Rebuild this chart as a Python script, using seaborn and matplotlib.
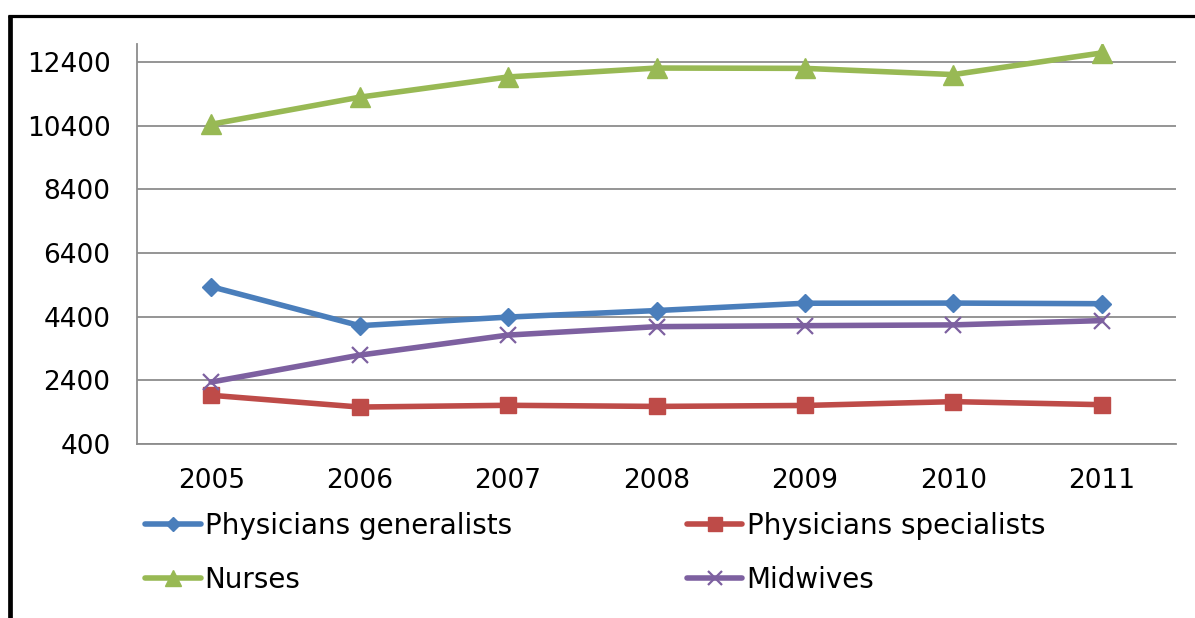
import matplotlib
matplotlib.use("Agg")
import matplotlib.pyplot as plt
from matplotlib.lines import Line2D
import seaborn as sns
import pandas as pd

years = [2005, 2006, 2007, 2008, 2009, 2010, 2011]
generalists = [5340, 4115, 4385, 4590, 4820, 4825, 4805]
specialists = [1930, 1560, 1615, 1580, 1610, 1730, 1635]
nurses = [10440, 11290, 11925, 12205, 12195, 12000, 12680]
midwives = [2345, 3190, 3820, 4085, 4115, 4140, 4275]

series_names = ["Physicians generalists", "Physicians specialists", "Nurses", "Midwives"]
y_ticks = [400, 2400, 4400, 6400, 8400, 10400, 12400]

sns.set_theme(style="white")
plt.rcParams["font.family"] = ["DejaVu Sans"]
plt.rcParams["text.color"] = "black"

styles = {
    "Physicians generalists": dict(color="#4A7EBB", marker="D", markersize=9.5, mew=1),
    "Physicians specialists": dict(color="#BE4B48", marker="s", markersize=12, mew=1),
    "Nurses": dict(color="#98B954", marker="^", markersize=14, mew=1),
    "Midwives": dict(color="#7D60A0", marker="x", markersize=12, mew=1.6),
}

df = pd.DataFrame({
    "year": years * 4,
    "value": generalists + specialists + nurses + midwives,
    "series": sum([[n] * len(years) for n in series_names], []),
})

fig = plt.figure(figsize=(11.95, 6.18), dpi=100)
ax = fig.add_axes([137 / 1195, 1 - 444 / 618, (1176 - 137) / 1195, 400 / 618])

for name in series_names:
    st = styles[name]
    sub = df[df["series"] == name]
    sns.lineplot(data=sub, x="year", y="value", ax=ax, color=st["color"],
                 linewidth=4.0, marker=st["marker"], markersize=st["markersize"],
                 markeredgewidth=st["mew"], markeredgecolor=st["color"],
                 markerfacecolor=st["color"], label=name, legend=False)

ax.set_xlim(2004.5, 2011.5)
ax.set_ylim(400, 12960)
ax.set_yticks(y_ticks)
ax.set_xticks(years)
ax.set_xticklabels([str(y) for y in years])
ax.set_xlabel("")
ax.set_ylabel("")
ax.yaxis.grid(True, color="#8c8c8c", linewidth=1.3)
ax.xaxis.grid(False)
ax.set_axisbelow(True)
for side in ["top", "right"]:
    ax.spines[side].set_visible(False)
for side in ["left", "bottom"]:
    ax.spines[side].set_color("#8c8c8c")
    ax.spines[side].set_linewidth(1.3)
ax.tick_params(axis="y", length=0, pad=19, labelsize=19, labelcolor="black")
ax.tick_params(axis="x", length=0, pad=17, labelsize=19, labelcolor="black")

handles = [Line2D([], [], color=styles[n]["color"], linewidth=4.0, marker=styles[n]["marker"],
                  markersize=styles[n]["markersize"] * 0.8, markeredgewidth=styles[n]["mew"],
                  markeredgecolor=styles[n]["color"], markerfacecolor=styles[n]["color"])
           for n in series_names]
order = [0, 2, 1, 3]
leg = fig.legend([handles[i] for i in order], [series_names[i] for i in order],
                 ncol=2, loc="center left", bbox_to_anchor=(145 / 1195, 1 - 553 / 618),
                 frameon=False, fontsize=20, handlelength=2.0, handletextpad=0.15,
                 columnspacing=6.3, labelspacing=0.95, borderpad=0, borderaxespad=0)
for t in leg.get_texts():
    t.set_color("black")

# Outer frame edges along the left and top of the figure
fig.add_artist(Line2D([10 / 1195, 10 / 1195], [0, 1 - 14.5 / 618], color="black",
                      linewidth=3.4, transform=fig.transFigure, solid_capstyle="butt"))
fig.add_artist(Line2D([8 / 1195, 1], [1 - 16 / 618, 1 - 16 / 618], color="black",
                      linewidth=2.3, transform=fig.transFigure, solid_capstyle="butt"))

fig.savefig("out.png", dpi=100, facecolor="white")
